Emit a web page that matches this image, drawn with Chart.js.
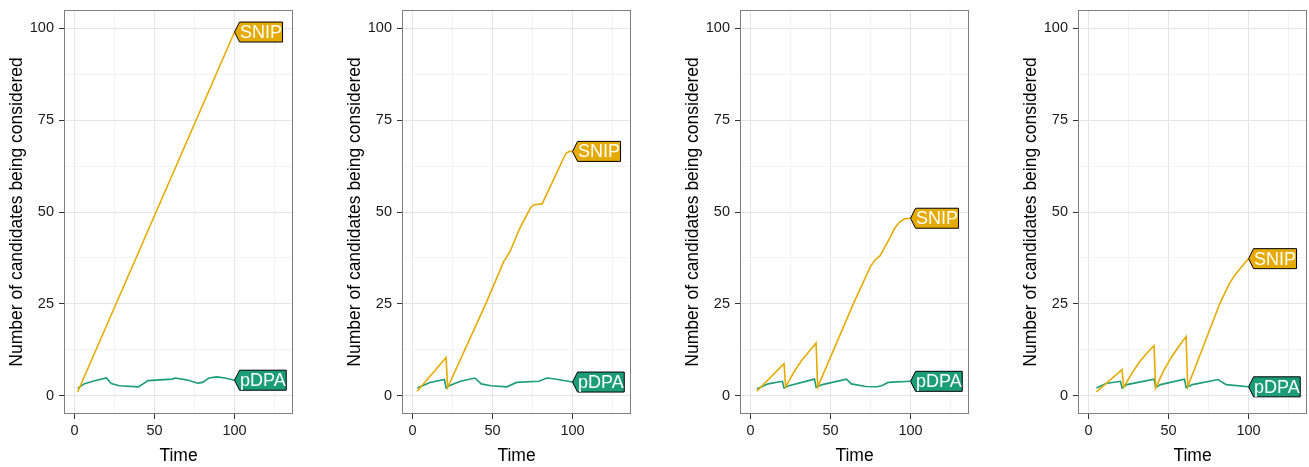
<!DOCTYPE html>
<html>
<head>
<meta charset="utf-8">
<script src="https://cdn.jsdelivr.net/npm/chart.js@4.4.1/dist/chart.umd.min.js"></script>
<style>
    html, body { margin: 0; padding: 0; background: #fff; }
    #wrap { position: relative; width: 1309px; height: 467px; overflow: hidden; }
    #wrap canvas { position: absolute; top: 0; }
</style>
</head>
<body>
<div id="wrap">
    <canvas id="panel1" width="338" height="467" style="left:0px"></canvas>
    <canvas id="panel2" width="338" height="467" style="left:338px"></canvas>
    <canvas id="panel3" width="338" height="467" style="left:676px"></canvas>
    <canvas id="panel4" width="295" height="467" style="left:1014px"></canvas>
</div>
<script>
// Axis ticks (major ones get labels, the rest are minor grid lines)
const xTicks = [0, 25, 50, 75, 100, 125];
const xMajor = [0, 50, 100];
const yTicks = [0, 12.5, 25, 37.5, 50, 62.5, 75, 87.5, 100];
const yMajor = [0, 25, 50, 75, 100];

const seriesNames = ['SNIP', 'pDPA'];
const seriesColors = ['#E6AB02', '#1B9E77'];

// Panel 1
const snipTime1 = [2, 100];
const snip1 = [1, 99];
const pdpaTime1 = [2, 6, 12, 20, 23, 28, 40, 46, 61, 63, 70, 77, 80, 84, 89, 94, 100];
const pdpa1 = [2.0, 3.2, 4.0, 4.8, 3.3, 2.7, 2.4, 4.1, 4.5, 4.8, 4.3, 3.4, 3.6, 4.8, 5.1, 4.8, 4.2];

// Panel 2
const snipTime2 = [3, 21, 22, 46, 57, 61, 67, 72, 74, 76, 81, 88, 94, 96, 98, 100];
const snip2 = [1.2, 10.4, 2.2, 25.2, 36.5, 39.3, 45.5, 49.7, 51.3, 52, 52.2, 58.7, 64.3, 66, 66.5, 66.5];
const pdpaTime2 = [3, 11, 20, 21, 23, 30, 39, 43, 49, 59, 65, 79, 84, 88, 100];
const pdpa2 = [2.1, 3.6, 4.4, 2.1, 2.7, 3.9, 4.8, 3.2, 2.7, 2.4, 3.6, 3.9, 4.8, 4.6, 3.7];

// Panel 3
const snipTime3 = [4, 21, 22, 27, 32, 37, 41, 42, 64, 75, 78, 81, 84, 87, 90, 93, 96, 100];
const snip3 = [1.2, 8.7, 2.4, 6.3, 9.6, 12.2, 14.3, 2.3, 24.7, 35.2, 37, 38.1, 40.5, 42.9, 45.5, 47.2, 48.1, 48.3];
const pdpaTime3 = [4, 11, 20, 21, 24, 40, 41, 45, 60, 63, 72, 79, 82, 86, 100];
const pdpa3 = [1.8, 3.2, 3.9, 2.1, 2.7, 4.5, 2.3, 3.0, 4.5, 3.2, 2.5, 2.4, 2.7, 3.6, 3.9];

// Panel 4
const snipTime4 = [5, 21, 22, 27, 32, 37, 41, 42, 47, 52, 57, 61, 62, 82, 88, 91, 94, 97, 100];
const snip4 = [1.0, 7.1, 2.3, 6.0, 9.2, 11.8, 13.6, 2.1, 6.8, 10.6, 13.7, 16.1, 2.4, 25, 30.5, 32.5, 34.2, 35.8, 37.3];
const pdpaTime4 = [5, 11, 20, 21, 24, 41, 42, 45, 60, 61, 65, 81, 86, 100];
const pdpa4 = [2.1, 3.3, 3.9, 2.1, 3.0, 4.5, 2.2, 3.0, 4.5, 2.2, 3.0, 4.4, 3.0, 2.4];

const FONT = "'Liberation Sans', Arial, Helvetica, sans-serif";

function toPoints(xs, ys) {
    return xs.map((x, i) => ({ x: x, y: ys[i] }));
}

// Panel border + tag labels at the end of each line
const tagPlugin = {
    id: 'tags',
    afterDatasetsDraw(chart) {
        const ctx = chart.ctx;
        ctx.save();
        chart.data.datasets.forEach((ds, i) => {
            const meta = chart.getDatasetMeta(i);
            const last = meta.data[meta.data.length - 1];
            const px = last.x, py = last.y;
            ctx.font = '18px ' + FONT;
            const w = ctx.measureText(ds.label).width + 1;
            const h = 20, a = 5;
            ctx.beginPath();
            ctx.moveTo(px, py);
            ctx.lineTo(px + a, py - h / 2);
            ctx.lineTo(px + a + w, py - h / 2);
            ctx.lineTo(px + a + w, py + h / 2);
            ctx.lineTo(px + a, py + h / 2);
            ctx.closePath();
            ctx.fillStyle = ds.borderColor;
            ctx.fill();
            ctx.lineWidth = 1;
            ctx.strokeStyle = '#000';
            ctx.stroke();
            ctx.fillStyle = '#fff';
            ctx.textBaseline = 'middle';
            ctx.textAlign = 'left';
            ctx.fillText(ds.label, px + a + 0.5, py + 1);
        });
        ctx.restore();
    },
    afterDraw(chart) {
        const a = chart.chartArea;
        const ctx = chart.ctx;
        ctx.save();
        ctx.strokeStyle = '#7f7f7f';
        ctx.lineWidth = 1;
        ctx.strokeRect(a.left + 0.5, a.top + 0.5, a.right - a.left - 1, a.bottom - a.top - 1);
        ctx.restore();
    }
};

function makePanel(id, snipT, snipV, pdpaT, pdpaV, rightPad) {
    const ctx = document.getElementById(id).getContext('2d');
    new Chart(ctx, {
        type: 'line',
        data: {
            datasets: [
                { label: seriesNames[0], data: toPoints(snipT, snipV), borderColor: seriesColors[0] },
                { label: seriesNames[1], data: toPoints(pdpaT, pdpaV), borderColor: seriesColors[1] }
            ]
        },
        options: {
            responsive: false,
            animation: false,
            layout: { padding: { top: 10, right: rightPad, left: 0, bottom: 0 } },
            elements: {
                point: { radius: 0 },
                line: { borderWidth: 1.6, tension: 0 }
            },
            plugins: {
                legend: { display: false },
                tooltip: { enabled: false }
            },
            scales: {
                x: {
                    type: 'linear',
                    min: -6.5,
                    max: 136.5,
                    afterBuildTicks: s => { s.ticks = xTicks.map(v => ({ value: v })); },
                    afterFit: s => { s.height = 53; s.paddingLeft = 0; s.paddingRight = 0; },
                    border: { display: false },
                    grid: {
                        color: c => xMajor.includes(c.tick.value) ? '#e5e5e5' : '#f3f3f3',
                        tickColor: c => xMajor.includes(c.tick.value) ? '#333' : 'rgba(0,0,0,0)',
                        tickLength: 5
                    },
                    ticks: {
                        autoSkip: false,
                        maxRotation: 0,
                        padding: 3,
                        color: '#1a1a1a',
                        font: { family: FONT, size: 14.5 },
                        callback: v => xMajor.includes(v) ? String(v) : ''
                    },
                    title: {
                        display: true,
                        text: 'Time',
                        color: '#000',
                        padding: { top: 1.5, bottom: 0 },
                        font: { family: FONT, size: 17.5 }
                    }
                },
                y: {
                    type: 'linear',
                    min: -5,
                    max: 105,
                    afterBuildTicks: s => { s.ticks = yTicks.map(v => ({ value: v })); },
                    afterFit: s => { s.width = 64; s.paddingTop = 0; s.paddingBottom = 0; },
                    border: { display: false },
                    grid: {
                        color: c => yMajor.includes(c.tick.value) ? '#e5e5e5' : '#f3f3f3',
                        tickColor: c => yMajor.includes(c.tick.value) ? '#333' : 'rgba(0,0,0,0)',
                        tickLength: 5
                    },
                    ticks: {
                        autoSkip: false,
                        padding: 5,
                        color: '#1a1a1a',
                        font: { family: FONT, size: 14.5 },
                        callback: v => yMajor.includes(v) ? String(v) : ''
                    },
                    title: {
                        display: true,
                        text: 'Number of candidates being considered',
                        color: '#000',
                        padding: { top: 6.5, bottom: 0 },
                        font: { family: FONT, size: 17.5 }
                    }
                }
            }
        },
        plugins: [tagPlugin]
    });
}

makePanel('panel1', snipTime1, snip1, pdpaTime1, pdpa1, 45);
makePanel('panel2', snipTime2, snip2, pdpaTime2, pdpa2, 45);
makePanel('panel3', snipTime3, snip3, pdpaTime3, pdpa3, 45);
makePanel('panel4', snipTime4, snip4, pdpaTime4, pdpa4, 2);
</script>
</body>
</html>
